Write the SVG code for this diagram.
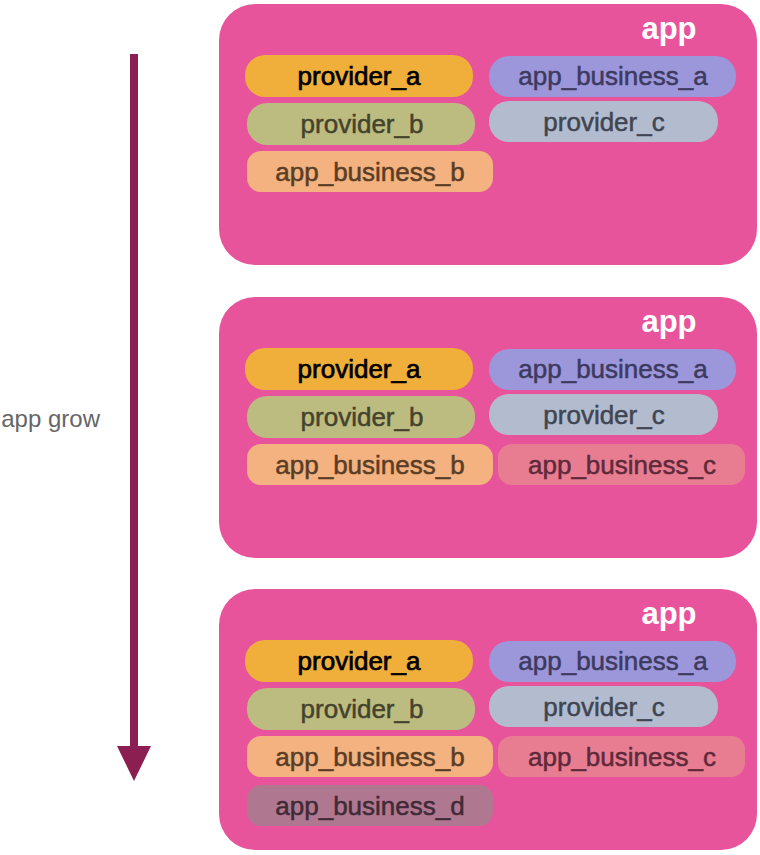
<svg xmlns="http://www.w3.org/2000/svg" width="760" height="855" viewBox="0 0 760 855">
<style>
.app{fill:#E8549C}
.lbl{font-family:"Liberation Sans",Arial,sans-serif;font-size:26px;text-anchor:middle;stroke-width:0.5px}
.title{font-family:"Liberation Sans",Arial,sans-serif;font-size:31px;font-weight:bold;fill:#fff;text-anchor:middle}
.pa{fill:#F0AE3A}.pat{fill:#000;stroke:#000;stroke-width:0.7px}
.aba{fill:#9C96DA}.abat{fill:#3C3A60;stroke:#3C3A60}
.pb{fill:#BDBC80}.pbt{fill:#45432C;stroke:#45432C}
.pc{fill:#B3BCCF}.pct{fill:#3F4552;stroke:#3F4552}
.abb{fill:#F3B27F}.abbt{fill:#5A3D26;stroke:#5A3D26}
.abc{fill:#E87D92}.abct{fill:#5E2A3A;stroke:#5E2A3A}
.abd{fill:#B07890}.abdt{fill:#402A36;stroke:#402A36}
</style>
<defs>
<g id="base">
<rect class="app" x="219" y="4" width="538" height="261" rx="36"/>
<text class="title" x="669" y="39">app</text>
<rect class="pa" x="245" y="55" width="228" height="42" rx="20"/>
<text class="lbl pat" x="359" y="85">provider_a</text>
<rect class="aba" x="489" y="56" width="247" height="41" rx="20"/>
<text class="lbl abat" x="613" y="85">app_business_a</text>
<rect class="pb" x="247" y="103" width="228" height="42" rx="20"/>
<text class="lbl pbt" x="362" y="133">provider_b</text>
<rect class="pc" x="489" y="101" width="229" height="41" rx="20"/>
<text class="lbl pct" x="604" y="131">provider_c</text>
<rect class="abb" x="247" y="151" width="246" height="41" rx="14"/>
<text class="lbl abbt" x="370" y="181">app_business_b</text>
</g>
</defs>
<g id="connectors">
<line x1="134" y1="54" x2="134" y2="750" stroke="#8B1F52" stroke-width="8"/>
<polygon points="117,746 151,746 134,781" fill="#8B1F52"/>
<text x="100" y="427" font-family="Liberation Sans,Arial,sans-serif" font-size="24" fill="#666" text-anchor="end">app grow</text>
</g>
<g id="app1">
<use href="#base"/>
</g>
<g id="app2" transform="translate(0,293)">
<use href="#base"/>
<rect class="abc" x="498" y="151" width="247" height="41" rx="14"/>
<text class="lbl abct" x="622" y="181">app_business_c</text>
</g>
<g id="app3" transform="translate(0,585)">
<use href="#base"/>
<rect class="abc" x="498" y="151" width="247" height="41" rx="14"/>
<text class="lbl abct" x="622" y="181">app_business_c</text>
<rect class="abd" x="247" y="200" width="246" height="41" rx="14"/>
<text class="lbl abdt" x="370" y="230">app_business_d</text>
</g>
</svg>
